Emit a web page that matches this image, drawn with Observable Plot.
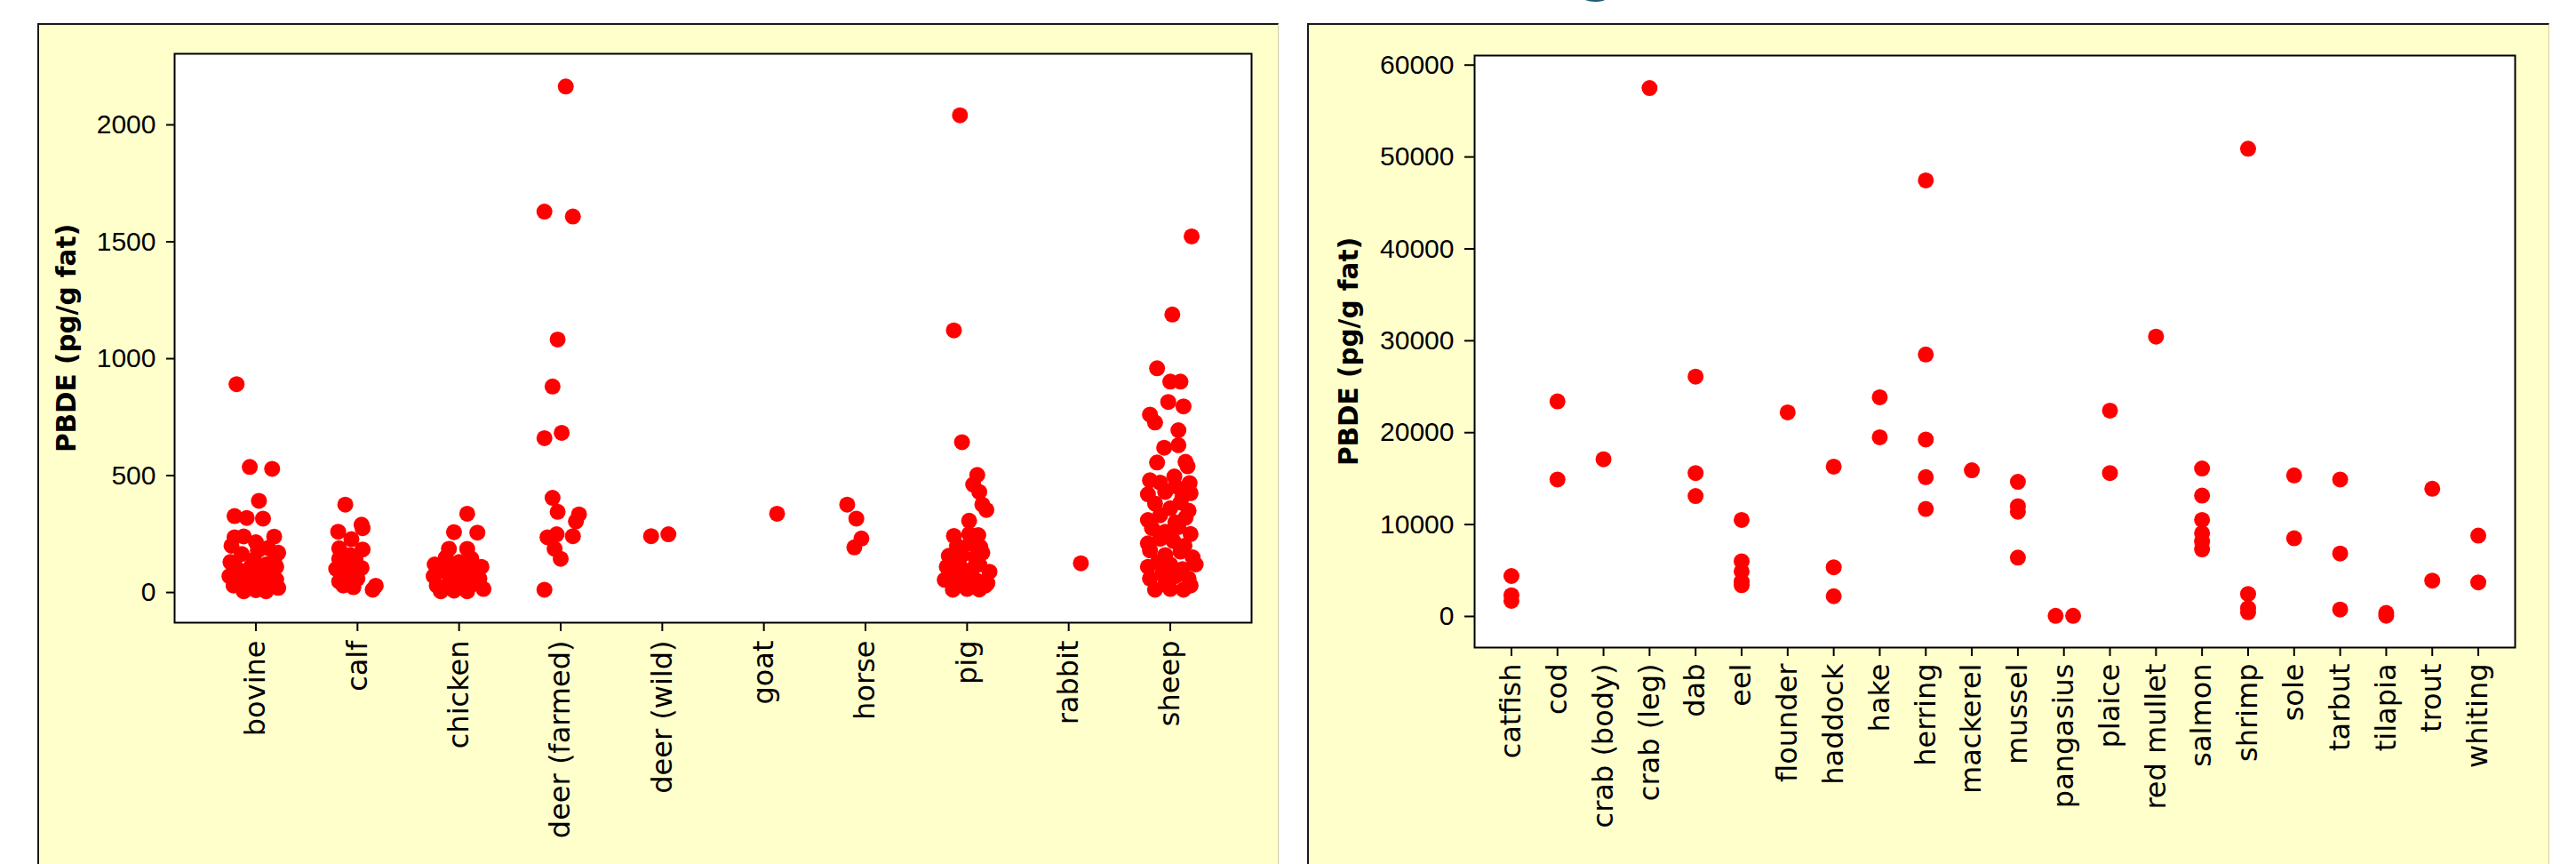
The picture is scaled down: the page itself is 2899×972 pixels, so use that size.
<!DOCTYPE html>
<html>
<head>
<meta charset="utf-8">
<script src="https://cdn.jsdelivr.net/npm/d3@7"></script>
<script src="https://cdn.jsdelivr.net/npm/@observablehq/plot@0.6"></script>
<style>
  html, body { margin: 0; padding: 0; background: #ffffff; }
  #page { position: relative; width: 2899px; height: 972px; overflow: hidden; background: #ffffff; }
  .panel { position: absolute; box-sizing: border-box; background: #ffffcc;
           border-left: 2px solid #1a1a1a; border-top: 2px solid #1a1a1a; border-right: 1px solid #cfcfa8; }
  #leftPanel { left: 42px; top: 26px; width: 1397px; height: 960px; }
  #rightPanel { left: 1471px; top: 26px; width: 1398px; height: 960px; }
  .chart { position: absolute; top: 0; }
  #leftChart { left: 0; }
  #rightChart { left: 1440px; }
  #cutTitle { position: absolute; left: 1777px; top: -62px; font: bold 60px "DejaVu Sans"; line-height: 60px; color: #1a5c78; }
</style>
</head>
<body>
<div id="page">
  <div id="cutTitle">g</div>
  <div class="panel" id="leftPanel"></div>
  <div class="panel" id="rightPanel"></div>
  <div class="chart" id="leftChart"></div>
  <div class="chart" id="rightChart"></div>
</div>
<script>
// ---------- data ----------
const yLabel = "PBDE (pg/g fat)";

const meatCategories = ["bovine", "calf", "chicken", "deer (farmed)", "deer (wild)", "goat", "horse", "pig", "rabbit", "sheep"];
const meatTicks = [0, 500, 1000, 1500, 2000];
// [category, horizontal jitter (fraction of category step), PBDE]
const meatPoints = [
  ["bovine", -0.19, 891], ["bovine", -0.06, 537], ["bovine", 0.16, 529], ["bovine", 0.03, 392],
  ["bovine", -0.21, 327], ["bovine", -0.09, 319], ["bovine", 0.07, 316], ["bovine", 0.18, 239],
  ["bovine", -0.21, 236], ["bovine", -0.24, 200], ["bovine", -0.12, 240], ["bovine", 0.0, 215],
  ["bovine", 0.12, 190], ["bovine", 0.22, 170], ["bovine", -0.25, 130], ["bovine", -0.14, 165],
  ["bovine", -0.02, 140], ["bovine", 0.10, 120], ["bovine", 0.20, 110], ["bovine", -0.26, 70],
  ["bovine", -0.15, 90], ["bovine", -0.04, 80], ["bovine", 0.08, 60], ["bovine", 0.20, 55],
  ["bovine", -0.22, 30], ["bovine", -0.10, 15], ["bovine", 0.0, 10], ["bovine", 0.10, 25],
  ["bovine", 0.22, 20], ["bovine", -0.18, 45], ["bovine", 0.05, 100], ["bovine", -0.08, 50],
  ["bovine", 0.15, 80], ["bovine", 0.02, 180], ["bovine", -0.20, 110], ["bovine", 0.18, 140],
  ["bovine", -0.05, 110], ["bovine", 0.12, 40], ["bovine", -0.12, 5], ["bovine", 0.10, 5], ["bovine", 0.03, 35],

  ["calf", -0.12, 376], ["calf", 0.04, 290], ["calf", 0.05, 275], ["calf", -0.19, 260], ["calf", -0.06, 228],
  ["calf", 0.05, 184], ["calf", -0.18, 189], ["calf", -0.18, 144], ["calf", -0.02, 144], ["calf", 0.04, 105],
  ["calf", -0.21, 101], ["calf", -0.08, 101], ["calf", -0.10, 70], ["calf", -0.18, 47], ["calf", -0.04, 23],
  ["calf", 0.15, 12], ["calf", 0.18, 29], ["calf", -0.14, 30], ["calf", -0.07, 160], ["calf", 0.0, 60],

  ["chicken", 0.08, 337], ["chicken", -0.05, 258], ["chicken", 0.18, 256], ["chicken", -0.10, 187], ["chicken", 0.08, 187],
  ["chicken", -0.24, 120], ["chicken", -0.13, 150], ["chicken", 0.0, 130], ["chicken", 0.12, 145], ["chicken", 0.22, 110],
  ["chicken", -0.25, 70], ["chicken", -0.14, 90], ["chicken", -0.02, 80], ["chicken", 0.10, 95], ["chicken", 0.20, 60],
  ["chicken", -0.22, 30], ["chicken", -0.10, 40], ["chicken", 0.02, 25], ["chicken", 0.13, 35], ["chicken", 0.24, 15],
  ["chicken", -0.18, 5], ["chicken", -0.05, 8], ["chicken", 0.08, 5], ["chicken", 0.18, 50], ["chicken", -0.07, 110],
  ["chicken", 0.05, 55], ["chicken", 0.16, 100], ["chicken", -0.20, 95],

  ["deer (farmed)", 0.05, 2164], ["deer (farmed)", -0.16, 1629], ["deer (farmed)", 0.12, 1608], ["deer (farmed)", -0.03, 1082],
  ["deer (farmed)", -0.08, 881], ["deer (farmed)", -0.16, 660], ["deer (farmed)", 0.01, 683], ["deer (farmed)", -0.08, 405],
  ["deer (farmed)", -0.03, 345], ["deer (farmed)", 0.18, 334], ["deer (farmed)", 0.15, 304], ["deer (farmed)", -0.04, 249],
  ["deer (farmed)", -0.13, 236], ["deer (farmed)", 0.12, 241], ["deer (farmed)", -0.06, 187], ["deer (farmed)", 0.0, 144],
  ["deer (farmed)", -0.16, 12],

  ["deer (wild)", -0.11, 241], ["deer (wild)", 0.06, 249],
  ["goat", 0.13, 337],
  ["horse", -0.18, 376], ["horse", -0.09, 316], ["horse", -0.04, 231], ["horse", -0.11, 193],

  ["pig", -0.07, 2041], ["pig", -0.13, 1121], ["pig", -0.05, 643], ["pig", 0.10, 503], ["pig", 0.06, 462],
  ["pig", 0.12, 430], ["pig", 0.15, 376], ["pig", 0.19, 353], ["pig", 0.02, 307],
  ["pig", -0.13, 242], ["pig", 0.11, 245], ["pig", 0.02, 250], ["pig", 0.03, 210], ["pig", -0.10, 200], ["pig", 0.13, 195],
  ["pig", -0.18, 157], ["pig", -0.05, 160], ["pig", 0.08, 150], ["pig", 0.15, 170],
  ["pig", -0.20, 110], ["pig", -0.08, 120], ["pig", 0.05, 100], ["pig", 0.12, 120], ["pig", 0.22, 89],
  ["pig", -0.22, 54], ["pig", -0.10, 60], ["pig", 0.0, 70], ["pig", 0.10, 50], ["pig", 0.20, 40],
  ["pig", -0.14, 12], ["pig", 0.0, 15], ["pig", 0.12, 13], ["pig", 0.18, 30], ["pig", -0.05, 30], ["pig", 0.08, 25], ["pig", -0.16, 85],

  ["rabbit", 0.12, 125],

  ["sheep", 0.21, 1523], ["sheep", 0.02, 1189], ["sheep", -0.13, 959], ["sheep", 0.0, 902], ["sheep", 0.10, 902],
  ["sheep", -0.02, 815], ["sheep", 0.13, 796], ["sheep", -0.20, 761], ["sheep", -0.15, 727], ["sheep", 0.08, 694],
  ["sheep", 0.08, 630], ["sheep", -0.06, 619], ["sheep", -0.13, 556], ["sheep", 0.15, 559], ["sheep", 0.17, 540],
  ["sheep", 0.04, 496], ["sheep", 0.19, 468],
  ["sheep", -0.20, 480], ["sheep", -0.10, 470], ["sheep", 0.05, 455], ["sheep", 0.15, 440],
  ["sheep", -0.22, 420], ["sheep", -0.05, 430], ["sheep", 0.12, 410], ["sheep", 0.20, 425],
  ["sheep", -0.15, 380], ["sheep", 0.0, 360], ["sheep", 0.10, 385], ["sheep", 0.18, 350],
  ["sheep", -0.22, 310], ["sheep", -0.10, 330], ["sheep", 0.05, 300], ["sheep", 0.15, 320],
  ["sheep", -0.18, 275], ["sheep", -0.05, 260], ["sheep", 0.08, 280], ["sheep", 0.20, 250],
  ["sheep", -0.22, 210], ["sheep", -0.10, 230], ["sheep", 0.03, 220], ["sheep", 0.14, 200],
  ["sheep", -0.20, 180], ["sheep", -0.05, 160], ["sheep", 0.10, 175], ["sheep", 0.22, 150],
  ["sheep", -0.22, 110], ["sheep", -0.12, 130], ["sheep", 0.0, 120], ["sheep", 0.12, 100], ["sheep", 0.25, 120],
  ["sheep", -0.20, 60], ["sheep", -0.08, 80], ["sheep", 0.05, 70], ["sheep", 0.18, 60],
  ["sheep", -0.15, 12], ["sheep", 0.0, 15], ["sheep", 0.13, 12], ["sheep", -0.05, 35], ["sheep", 0.20, 30]
];

const fishCategories = ["catfish", "cod", "crab (body)", "crab (leg)", "dab", "eel", "flounder", "haddock", "hake",
  "herring", "mackerel", "mussel", "pangasius", "plaice", "red mullet", "salmon", "shrimp", "sole", "tarbut",
  "tilapia", "trout", "whiting"];
const fishTicks = [0, 10000, 20000, 30000, 40000, 50000, 60000];
const fishPoints = [
  ["catfish", 0, 4400], ["catfish", 0, 2300], ["catfish", 0, 1700],
  ["cod", 0, 23400], ["cod", 0, 14900],
  ["crab (body)", 0, 17100],
  ["crab (leg)", 0, 57500],
  ["dab", 0, 26100], ["dab", 0, 15600], ["dab", 0, 13100],
  ["eel", 0, 10500], ["eel", 0, 6000], ["eel", 0, 4900], ["eel", 0, 3800], ["eel", 0, 3400],
  ["flounder", 0, 22200],
  ["haddock", 0, 16300], ["haddock", 0, 5350], ["haddock", 0, 2200],
  ["hake", 0, 23850], ["hake", 0, 19500],
  ["herring", 0, 47450], ["herring", 0, 28500], ["herring", 0, 19250], ["herring", 0, 15150], ["herring", 0, 11700],
  ["mackerel", 0, 15900],
  ["mussel", 0, 14650], ["mussel", 0, 12000], ["mussel", 0, 11400], ["mussel", 0, 6400],
  ["pangasius", -0.18, 60], ["pangasius", 0.2, 60],
  ["plaice", 0, 22400], ["plaice", 0, 15600],
  ["red mullet", 0, 30450],
  ["salmon", 0, 16100], ["salmon", 0, 13150], ["salmon", 0, 10500], ["salmon", 0, 9050], ["salmon", 0, 8150], ["salmon", 0, 7300],
  ["shrimp", 0, 50900], ["shrimp", 0, 2450], ["shrimp", 0, 900], ["shrimp", 0, 450],
  ["sole", 0, 15350], ["sole", 0, 8500],
  ["tarbut", 0, 14900], ["tarbut", 0, 6850], ["tarbut", 0, 750],
  ["tilapia", 0, 380], ["tilapia", 0, 80],
  ["trout", 0, 13900], ["trout", 0, 3900],
  ["whiting", 0, 8800], ["whiting", 0, 3700]
];

// ---------- drawing ----------
function drawChart({categories, points, ticks, yDomain, width, margins, labelDx, xTickPadding, yTickSize}) {
  const index = new Map(categories.map((c, i) => [c, i]));
  const n = categories.length;
  return Plot.plot({
    width, height: 972,
    marginLeft: margins[0], marginRight: margins[1], marginTop: margins[2], marginBottom: margins[3],
    style: {background: "transparent", fontFamily: "DejaVu Sans", color: "#000", overflow: "visible"},
    x: {type: "linear", domain: [-0.8, n - 1 + 0.8]},
    y: {domain: yDomain},
    marks: [
      Plot.frame({fill: "white", stroke: "none"}),
      Plot.dot(points, {
        x: d => index.get(d[0]) + d[1],
        y: d => d[2],
        r: 9, fill: "#ff0000", stroke: "none"
      }),
      Plot.frame({stroke: "#000", strokeWidth: 2}),
      Plot.axisY(ticks, {
        tickSize: yTickSize, tickPadding: 12, strokeWidth: 2, fontSize: 30,
        fontFamily: "Liberation Sans", label: null, tickFormat: d => String(d)
      }),
      Plot.axisX(categories.map((c, i) => i), {
        tickFormat: i => categories[i], tickRotate: -90, tickSize: 10, tickPadding: xTickPadding,
        strokeWidth: 2, fontSize: 32, fontFamily: "DejaVu Sans", label: null
      }),
      Plot.text([yLabel], {
        text: d => d, frameAnchor: "left", dx: labelDx, rotate: -90,
        textAnchor: "middle", lineAnchor: "middle",
        fontSize: 29.5, fontWeight: "bold", fontFamily: "DejaVu Sans", fill: "#000"
      })
    ]
  });
}

document.getElementById("leftChart").append(drawChart({
  categories: meatCategories, points: meatPoints, ticks: meatTicks,
  yDomain: [-129, 2304], width: 1440, margins: [196, 32, 60, 272],
  labelDx: -121, xTickPadding: 10, yTickSize: 9
}));

document.getElementById("rightChart").append(drawChart({
  categories: fishCategories, points: fishPoints, ticks: fishTicks,
  yDomain: [-3387, 61037], width: 1459, margins: [219, 69, 62, 244],
  labelDx: -141, xTickPadding: 8, yTickSize: 11
}));
</script>
</body>
</html>
